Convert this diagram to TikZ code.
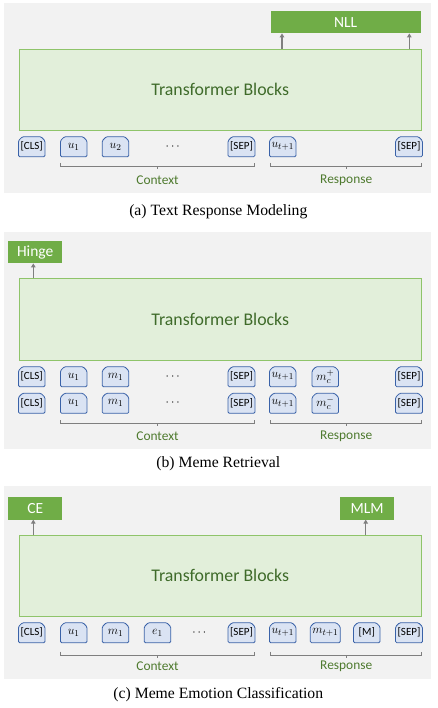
\documentclass[tikz,border=0pt]{standalone}
\usepackage{fontspec}
\setmainfont{Liberation Serif}
\newfontfamily\calfnt{Carlito}
\usetikzlibrary{shapes.misc,arrows.meta}
\newcommand{\tkm}[1]{{\fontsize{12.5}{14}\selectfont$#1$}}
\definecolor{bgg}{HTML}{F2F2F2}
\definecolor{tbfill}{HTML}{E2EFDA}
\definecolor{tbdraw}{HTML}{8FC46A}
\definecolor{tbtext}{HTML}{3F6B2A}
\definecolor{lossf}{HTML}{70AD47}
\definecolor{tokf}{HTML}{DAE3F3}
\definecolor{tokd}{HTML}{3A62A8}
\definecolor{arrg}{HTML}{7F7F7F}
\definecolor{lblg}{HTML}{4E7A2E}
\tikzset{
  panel/.style={fill=bgg, draw=none},
  tb/.style={draw=tbdraw, fill=tbfill, line width=0.9pt, minimum width=402.7pt, inner sep=0pt, font=\calfnt\fontsize{17.8}{20}\selectfont, text=tbtext},
  loss/.style={fill=lossf, draw=none, inner sep=0pt, minimum height=22.5pt, font=\calfnt\fontsize{15.5}{17}\selectfont, text=white},
  tok/.style={chamfered rectangle, chamfered rectangle corners={north west,north east}, chamfered rectangle xsep=2pt, chamfered rectangle ysep=2pt, rounded corners=1.2pt, draw=tokd, fill=tokf, line width=0.8pt, minimum width=26.5pt, minimum height=20pt, inner sep=0pt, font=\calfnt\fontsize{11}{13}\selectfont},
  dotsn/.style={font=\fontsize{12}{13}\selectfont},
  upar/.style={draw=arrg, line width=1.3pt, -{Triangle[width=4.5pt,length=4pt]}},
  brk/.style={draw=arrg, line width=0.9pt},
  lbl/.style={font=\calfnt\fontsize{13.4}{15}\selectfont, text=lblg},
  captxt/.style={font=\fontsize{15.7}{18}\selectfont},
}
\begin{document}
\begin{tikzpicture}[x=1pt,y=-1pt]
\useasboundingbox (0,0) rectangle (437,708);
% ================= panel (a)
\fill[panel] (4,3.3) rectangle (430.7,193);
\node[tb, minimum height=81pt] (tba) at (220.3,89.5) {Transformer Blocks};
\node[loss, minimum width=150pt] (nll) at (345.7,22.2) {NLL};
\coordinate (a1) at (282,49); \coordinate (a1t) at (282,33.4);
\coordinate (a2) at (409.3,49); \coordinate (a2t) at (409.3,33.4);
\draw[upar] (a1) -- (a1t);
\draw[upar] (a2) -- (a2t);
\node[tok] (acls) at (31.7,146.7) {[CLS]};
\node[tok] (au1) at (73.7,146.7) {\tkm{u_1}};
\node[tok] (au2) at (115.5,146.7) {\tkm{u_2}};
\node[dotsn] (adots) at (172.7,146.7) {$\cdots$};
\node[tok] (asep) at (241.5,146.7) {[SEP]};
\node[tok] (aut) at (282.7,146.7) {\tkm{u_{t+1}}};
\node[tok] (asep2) at (409,146.7) {[SEP]};
\coordinate (acl) at (60.3,166.7); \coordinate (acr) at (254.7,166.7);
\coordinate (arl) at (270.7,166.7); \coordinate (arr) at (421.7,166.7);
\draw[brk] (60.3,163) -- (acl) -- (acr) -- (254.7,163);
\draw[brk] (157.5,166.7) -- (157.5,169.5);
\draw[brk] (270.7,163) -- (arl) -- (arr) -- (421.7,163);
\draw[brk] (346.2,166.7) -- (346.2,169.5);
\node[lbl] (actx) at (157.5,180.3) {Context};
\node[lbl] (aresp) at (346.2,180.3) {Response};
\node[captxt] (capa) at (218.3,211.7) {(a) Text Response Modeling};
% ================= panel (b)
\fill[panel] (4,232.3) rectangle (430.7,449);
\node[tb, minimum height=81.7pt] (tbb) at (220.3,319.2) {Transformer Blocks};
\node[loss, minimum width=54.3pt] (hinge) at (35.2,252) {Hinge};
\coordinate (b1) at (33.3,278.3); \coordinate (b1t) at (33.3,263.4);
\draw[upar] (b1) -- (b1t);
\node[tok] (bcls) at (31.7,376.7) {[CLS]};
\node[tok] (bu1) at (73.7,376.7) {\tkm{u_1}};
\node[tok] (bm1) at (115.5,376.7) {\tkm{m_1}};
\node[dotsn] (bdots) at (172.7,376.7) {$\cdots$};
\node[tok] (bsep) at (241.5,376.7) {[SEP]};
\node[tok] (but) at (282.7,376.7) {\tkm{u_{t+1}}};
\node[tok] (bmc) at (325.3,376.7) {\tkm{m_c^{+}}};
\node[tok] (bsep2) at (409,376.7) {[SEP]};
\node[tok] (bcls2) at (31.7,403.3) {[CLS]};
\node[tok] (bu12) at (73.7,403.3) {\tkm{u_1}};
\node[tok] (bm12) at (115.5,403.3) {\tkm{m_1}};
\node[dotsn] (bdots2) at (172.7,403.3) {$\cdots$};
\node[tok] (bsep3) at (241.5,403.3) {[SEP]};
\node[tok] (but2) at (282.7,403.3) {\tkm{u_{t+1}}};
\node[tok] (bmc2) at (325.3,403.3) {\tkm{m_c^{-}}};
\node[tok] (bsep4) at (409,403.3) {[SEP]};
\draw[brk] (60.3,420) -- (60.3,423.3) -- (254.7,423.3) -- (254.7,420);
\draw[brk] (157.5,423.3) -- (157.5,426.1);
\draw[brk] (270.7,420) -- (270.7,423.3) -- (421.7,423.3) -- (421.7,420);
\draw[brk] (346.2,423.3) -- (346.2,426.1);
\node[lbl] (bctx) at (157.5,436.3) {Context};
\node[lbl] (bresp) at (346.2,436.3) {Response};
\node[captxt] (capb) at (218.3,464) {(b) Meme Retrieval};
% ================= panel (c)
\fill[panel] (4,486) rectangle (430.7,679.3);
\node[tb, minimum height=81pt] (tbc) at (220.3,575.5) {Transformer Blocks};
\node[loss, minimum width=54.3pt] (ce) at (35.2,508.3) {CE};
\node[loss, minimum width=54.3pt] (mlm) at (367.2,508.3) {MLM};
\coordinate (c1) at (33.3,535); \coordinate (c1t) at (33.3,519.6);
\coordinate (c2) at (365.7,535); \coordinate (c2t) at (365.7,519.6);
\draw[upar] (c1) -- (c1t);
\draw[upar] (c2) -- (c2t);
\node[tok] (ccls) at (31.7,632.7) {[CLS]};
\node[tok] (cu1) at (73.7,632.7) {\tkm{u_1}};
\node[tok] (cm1) at (115.5,632.7) {\tkm{m_1}};
\node[tok] (ce1) at (157.5,632.7) {\tkm{e_1}};
\node[dotsn] (cdots) at (199.3,632.7) {$\cdots$};
\node[tok] (csep) at (241.5,632.7) {[SEP]};
\node[tok] (cut) at (282.7,632.7) {\tkm{u_{t+1}}};
\node[tok] (cmt) at (325.3,632.7) {\tkm{m_{t+1}}};
\node[tok] (cmask) at (366.8,632.7) {[M]};
\node[tok] (csep2) at (409,632.7) {[SEP]};
\draw[brk] (60.3,651.7) -- (60.3,655) -- (254.7,655) -- (254.7,651.7);
\draw[brk] (157.5,655) -- (157.5,657.8);
\draw[brk] (270.7,651.7) -- (270.7,655) -- (421.7,655) -- (421.7,651.7);
\draw[brk] (346.2,655) -- (346.2,657.8);
\node[lbl] (cctx) at (157.5,666.3) {Context};
\node[lbl] (cresp) at (346.2,666.3) {Response};
\node[captxt] (capc) at (218.3,695) {(c) Meme Emotion Classification};
\end{tikzpicture}
\end{document}
